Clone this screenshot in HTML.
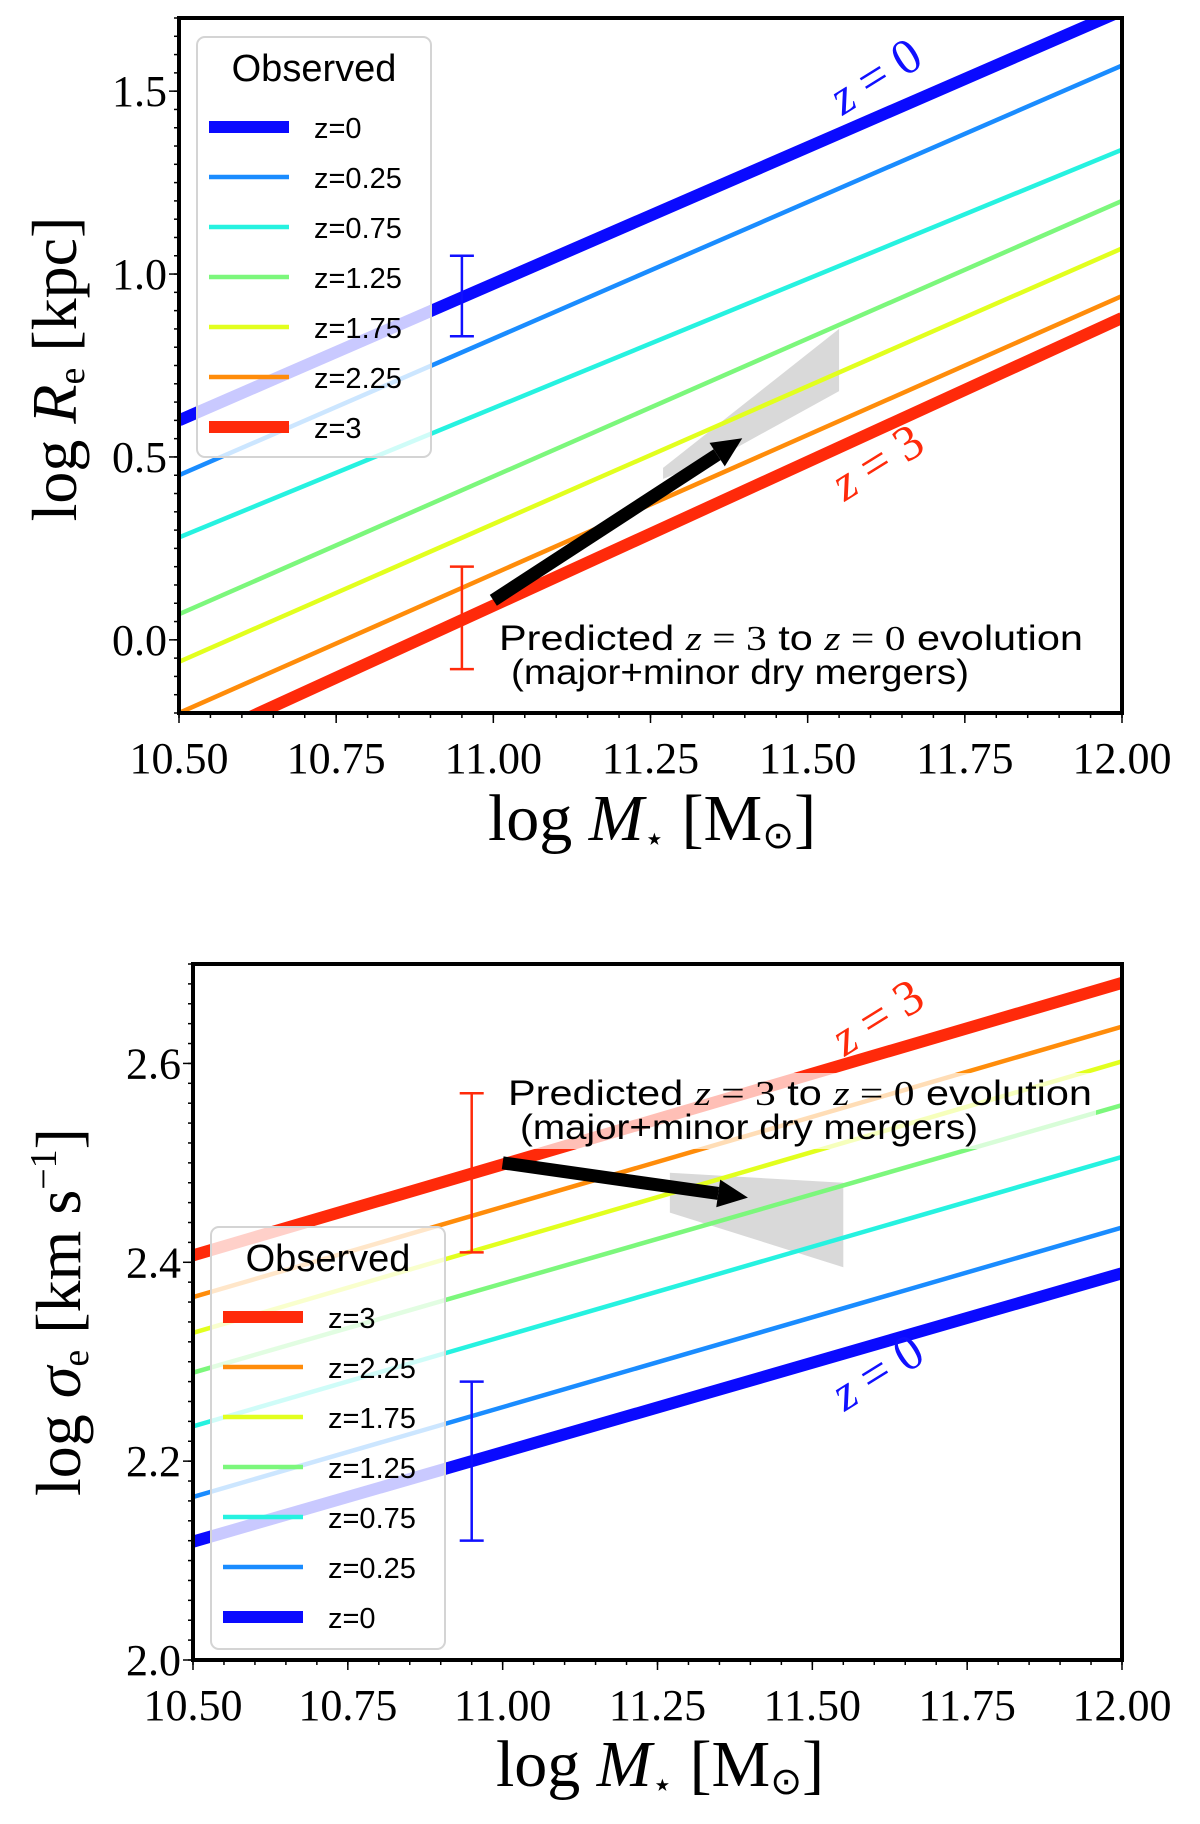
<!DOCTYPE html>
<html><head><meta charset="utf-8"><style>
html,body{margin:0;padding:0;background:#fff}
svg text{font-family:"Liberation Serif",serif}
.sans{font-family:"Liberation Sans",sans-serif}
</style></head><body>
<svg id="fig" width="1200" height="1819" viewBox="0 0 1200 1819" xmlns="http://www.w3.org/2000/svg"></svg>
<script>
const NS="http://www.w3.org/2000/svg";
const svg=document.getElementById('fig');
const zLabels=["z=0","z=0.25","z=0.75","z=1.25","z=1.75","z=2.25","z=3"];
const zColors=["#0a0aff","#1a8cff","#26f2e0","#7cf77c","#e2ff1e","#ff8c0a","#ff2a0a"];
const zWidths=[12,4.5,4.5,4.5,4.5,4.5,12];
const massEnds=[10.5,12.0];
const reStart=[0.60,0.45,0.28,0.07,-0.06,-0.20,-0.30];
const reEnd=[1.72,1.57,1.34,1.20,1.07,0.94,0.88];
const sigStart=[2.119,2.164,2.235,2.289,2.329,2.365,2.407];
const sigEnd=[2.389,2.435,2.506,2.558,2.602,2.637,2.681];
const xTicks=[10.5,10.75,11.0,11.25,11.5,11.75,12.0];
const xTickLabels=["10.50","10.75","11.00","11.25","11.50","11.75","12.00"];
const reTicks=[0.0,0.5,1.0,1.5];
const reTickLabels=["0.0","0.5","1.0","1.5"];
const sigTicks=[2.0,2.2,2.4,2.6];
const sigTickLabels=["2.0","2.2","2.4","2.6"];
const reErr=[[10.95,0.83,1.05,"#1010ff"],[10.95,-0.08,0.20,"#ff2a0a"]];
const sigErr=[[10.95,2.12,2.28,"#1010ff"],[10.95,2.41,2.57,"#ff2a0a"]];
const reArrow=[11.0,0.108,11.396,0.551];
const sigArrow=[11.0,2.50,11.396,2.465];
const reShade=[[11.27,0.44],[11.27,0.47],[11.55,0.85],[11.55,0.68],[11.36,0.50]];
const sigShade=[[11.27,2.49],[11.55,2.48],[11.55,2.395],[11.27,2.45]];

function el(tag,attrs,parent){const e=document.createElementNS(NS,tag);for(const k in attrs)e.setAttribute(k,attrs[k]);(parent||svg).appendChild(e);return e;}

function panel(cfg){
  const g=el('g',{});
  
  
  const X=v=>cfg.L+(v-10.5)/(1.5)*(cfg.R-cfg.L);
  const Y=v=>cfg.B-(v-cfg.y0)/(cfg.y1-cfg.y0)*(cfg.B-cfg.T);
  const cid='clip'+cfg.name;
  const cp=el('clipPath',{id:cid},g);el('rect',{x:cfg.L,y:cfg.T,width:cfg.R-cfg.L,height:cfg.B-cfg.T},cp);
  const plot=el('g',{'clip-path':`url(#${cid})`},g);
  const sh=el('polygon',{points:cfg.shade.map(p=>X(p[0])+','+Y(p[1])).join(' '),fill:'#d9d9d9'},plot);
  
  
  for(const i of cfg.order){
    const ln=el('line',{x1:X(massEnds[0]),y1:Y(cfg.s[i]),x2:X(massEnds[1]),y2:Y(cfg.e[i]),stroke:zColors[i],'stroke-width':zWidths[i]},plot);
    
    
  }
  for(const eb of cfg.err){
    const eg=el('g',{stroke:eb[3],'stroke-width':2.5},plot);
    
    
    const x=X(eb[0]);
    el('line',{x1:x,y1:Y(eb[1]),x2:x,y2:Y(eb[2])},eg);
    el('line',{x1:x-12,y1:Y(eb[1]),x2:x+12,y2:Y(eb[1])},eg);
    el('line',{x1:x-12,y1:Y(eb[2]),x2:x+12,y2:Y(eb[2])},eg);
  }
  el('rect',{x:cfg.ann[0]-4,y:cfg.ann[1]-32,width:592,height:76,fill:'rgba(255,255,255,0.7)'},plot);
  const a=cfg.arrow;const x1=X(a[0]),y1=Y(a[1]),x2=X(a[2]),y2=Y(a[3]);
  const dx=x2-x1,dy=y2-y1,len=Math.hypot(dx,dy),ux=dx/len,uy=dy/len,nx=-uy,ny=ux;
  const hl=30,hw=14,bx=x2-ux*hl,by=y2-uy*hl;
  const ag=el('g',{},plot);
  
  
  el('line',{x1:x1,y1:y1,x2:bx,y2:by,stroke:'#000','stroke-width':13},ag);
  el('polygon',{points:`${x2},${y2} ${bx+nx*hw},${by+ny*hw} ${bx-nx*hw},${by-ny*hw}`,fill:'#000'},ag);
  const t1=el('text',{x:cfg.ann[0],y:cfg.ann[1],'font-size':35,class:'sans',fill:'#000',textLength:584,lengthAdjust:'spacingAndGlyphs'},plot);
  
  
  t1.innerHTML='Predicted <tspan font-family="Liberation Serif" font-style="italic">z</tspan><tspan font-family="Liberation Serif"> = 3</tspan> to <tspan font-family="Liberation Serif" font-style="italic">z</tspan><tspan font-family="Liberation Serif"> = 0</tspan> evolution';
  const t2=el('text',{x:cfg.ann[0]+12,y:cfg.ann[1]+34,'font-size':35,class:'sans',fill:'#000',textLength:458,lengthAdjust:'spacingAndGlyphs'},plot);
  
  
  t2.textContent='(major+minor dry mergers)';
  for(const zl of cfg.zl){
    const t=el('text',{x:zl[0],y:zl[1],'font-size':50,fill:zl[3],transform:`rotate(-32 ${zl[0]} ${zl[1]})`,'text-anchor':'middle'},plot);
    
    
    t.innerHTML='<tspan font-style="italic">z</tspan> = '+zl[2].slice(-1);
  }
  const lg=el('g',{},g);
  
  
  el('rect',{x:cfg.leg[0],y:cfg.leg[1],width:234,height:cfg.leg[2],rx:8,fill:'rgba(255,255,255,0.78)',stroke:'#d4d4d4','stroke-width':2},lg);
  const tt=el('text',{x:cfg.leg[0]+117,y:cfg.leg[1]+44,'font-size':38,class:'sans','text-anchor':'middle'},lg);
  
  
  tt.textContent='Observed';
  cfg.legOrder.forEach((i,k)=>{
    const yy=cfg.leg[1]+90+k*50;
    const eg=el('g',{},lg);
    
    
    el('line',{x1:cfg.leg[0]+12,y1:yy,x2:cfg.leg[0]+92,y2:yy,stroke:zColors[i],'stroke-width':zWidths[i]},eg);
    const t=el('text',{x:cfg.leg[0]+117,y:yy+11,'font-size':29,class:'sans'},eg);
    t.textContent=zLabels[i];
  });
  el('rect',{x:cfg.L,y:cfg.T,width:cfg.R-cfg.L,height:cfg.B-cfg.T,fill:'none',stroke:'#000','stroke-width':4},g);
  const tk=el('g',{stroke:'#000','stroke-width':1.5},g);
  
  
  for(let v=10.5;v<=12.0001;v+=0.05){const x=X(v);el('line',{x1:x,y1:cfg.B,x2:x,y2:cfg.B+5},tk);}
  for(let v=cfg.y0;v<=cfg.y1+1e-6;v+=cfg.minor){const y=Y(v);el('line',{x1:cfg.L,y1:y,x2:cfg.L-5,y2:y},tk);}
  xTicks.forEach((v,i)=>{
    el('line',{x1:X(v),y1:cfg.B,x2:X(v),y2:cfg.B+10},tk);
    const t=el('text',{x:X(v),y:cfg.B+60,'font-size':44,'text-anchor':'middle',stroke:'none'},g);
    
    
    t.textContent=xTickLabels[i];
  });
  cfg.yt.forEach((v,i)=>{
    el('line',{x1:cfg.L,y1:Y(v),x2:cfg.L-10,y2:Y(v)},tk);
    const t=el('text',{x:cfg.L-12,y:Y(v)+15,'font-size':44,'text-anchor':'end'},g);
    
    
    t.textContent=cfg.ytl[i];
  });
  const xl=el('text',{x:cfg.xl[0],y:cfg.xl[1],'font-size':66,'text-anchor':'middle'},g);
  
  
  xl.innerHTML='log <tspan font-style="italic">M</tspan><tspan font-size="34" dy="10">⋆</tspan><tspan dy="-10"> [M</tspan><tspan font-size="38" dy="8">⊙</tspan><tspan dy="-8">]</tspan>';
  const yl=el('text',{x:cfg.yl[0],y:cfg.yl[1],'font-size':64,'text-anchor':'middle',transform:`rotate(-90 ${cfg.yl[0]} ${cfg.yl[1]})`},g);
  
  
  yl.innerHTML=cfg.ylab;
}
panel({name:'size-panel',L:179,R:1122,T:18,B:713,y0:-0.2,y1:1.7,minor:0.05,s:reStart,e:reEnd,order:[0,1,2,3,4,5,6],
  err:reErr,arrow:reArrow,shade:reShade,ann:[499,650],
  zl:[[884,90,'z = 0','#1010ff'],[886,476,'z = 3','#ff2a0a']],
  leg:[197,37,420],legOrder:[0,1,2,3,4,5,6],yt:reTicks,ytl:reTickLabels,xl:[652,840],yl:[76,369],
  ylab:'log <tspan font-style="italic">R</tspan><tspan font-size="38" dy="8">e</tspan><tspan dy="-8"> [kpc]</tspan>'});
panel({name:'dispersion-panel',L:193,R:1122,T:964,B:1660,y0:2.0,y1:2.7,minor:0.02,s:sigStart,e:sigEnd,order:[0,1,2,3,4,5,6],
  err:sigErr,arrow:sigArrow,shade:sigShade,ann:[508,1105],
  zl:[[886,1031,'z = 3','#ff2a0a'],[886,1386,'z = 0','#1010ff']],
  leg:[211,1227,422],legOrder:[6,5,4,3,2,1,0],yt:sigTicks,ytl:sigTickLabels,xl:[660,1786],yl:[80,1312],
  ylab:'log <tspan font-style="italic">σ</tspan><tspan font-size="38" dy="8">e</tspan><tspan dy="-8"> [km s</tspan><tspan font-size="38" dy="-24">−1</tspan><tspan dy="24">]</tspan>'});
</script>
</body></html>
